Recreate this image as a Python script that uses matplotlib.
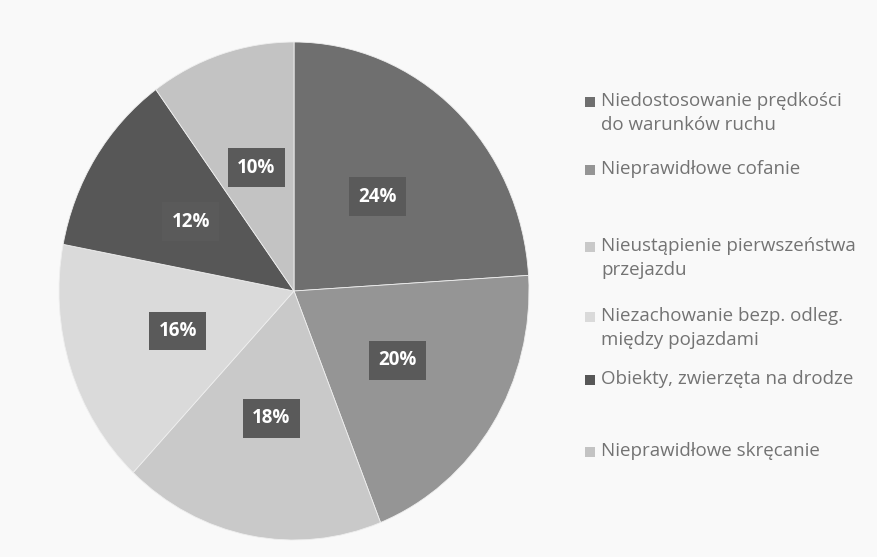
import matplotlib
matplotlib.use("Agg")
import matplotlib.pyplot as plt
from matplotlib.patches import Rectangle

plt.rcParams['font.family'] = ['Open Sans', 'DejaVu Sans']

labels = ['Niedostosowanie prędkości\ndo warunków ruchu',
          'Nieprawidłowe cofanie',
          'Nieustąpienie pierwszeństwa\nprzejazdu',
          'Niezachowanie bezp. odleg.\nmiędzy pojazdami',
          'Obiekty, zwierzęta na drodze',
          'Nieprawidłowe skręcanie']
values = [24, 20, 18, 16, 12, 10]
colors = ['#6f6f6f', '#959595', '#c9c9c9', '#dadada', '#575757', '#c3c3c3']
legend_y = [102, 170, 247, 317, 380, 452]   # pixel rows of legend entries

W, H = 878, 557
fig = plt.figure(figsize=(W / 100, H / 100), dpi=100)
fig.patch.set_facecolor('#f9f9f9')

# pie is slightly taller than wide in the original
cx, cy, rx, ry = 294, 291, 235, 249
ax = fig.add_axes([(cx - rx) / W, (H - cy - ry) / H, 2 * rx / W, 2 * ry / H])
wedges, texts, autotexts = ax.pie(values, colors=colors, startangle=90, counterclock=False,
                                  autopct='%d%%', pctdistance=0.52, radius=1,
                                  wedgeprops=dict(linewidth=0.6, edgecolor='#eeeeee'))
for t in autotexts:
    t.set_color('white')
    t.set_fontweight('bold')
    t.set_fontsize(13.5)
    t.set_bbox(dict(boxstyle='square,pad=0.5', facecolor='#5a5a5a', edgecolor='none'))
ax.set_xlim(-1, 1)
ax.set_ylim(-1, 1)
ax.set_aspect('auto')
ax.axis('off')

# legend drawn by hand to keep the uneven spacing of the original
for lab, col, y in zip(labels, colors, legend_y):
    fig.patches.append(Rectangle((585 / W, (H - y - 5) / H), 10 / W, 10 / H,
                                 transform=fig.transFigure, facecolor=col, edgecolor='none'))
    fig.text(601 / W, (H - y + 10) / H, lab, fontsize=13.5, color='#737373', va='top',
             ha='left', linespacing=1.45)

fig.savefig('out.png', dpi=100, facecolor=fig.get_facecolor())
